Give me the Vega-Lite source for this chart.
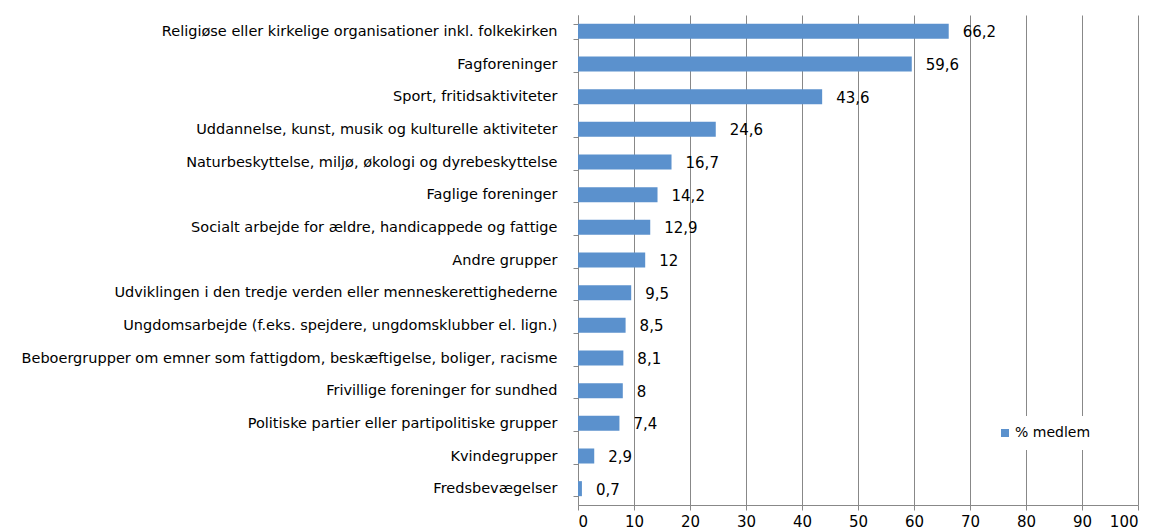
{
  "$schema": "https://vega.github.io/schema/vega-lite/v6.json",
  "autosize": "none",
  "width": 560,
  "height": 490,
  "padding": {"left": 578, "top": 15, "right": 19, "bottom": 25},
  "background": "white",
  "config": {
    "font": "DejaVu Sans",
    "view": {"stroke": null}
  },
  "data": {
    "values": [
      {"kategori": "Religiøse eller kirkelige organisationer inkl. folkekirken", "pct": 66.2, "label": "66,2", "serie": "% medlem"},
      {"kategori": "Fagforeninger\u2002", "pct": 59.6, "label": "59,6", "serie": "% medlem"},
      {"kategori": "Sport, fritidsaktiviteter", "pct": 43.6, "label": "43,6", "serie": "% medlem"},
      {"kategori": "Uddannelse, kunst, musik og kulturelle aktiviteter\u2002", "pct": 24.6, "label": "24,6", "serie": "% medlem"},
      {"kategori": "Naturbeskyttelse, miljø, økologi og dyrebeskyttelse\u2002", "pct": 16.7, "label": "16,7", "serie": "% medlem"},
      {"kategori": "Faglige foreninger", "pct": 14.2, "label": "14,2", "serie": "% medlem"},
      {"kategori": "Socialt arbejde for ældre, handicappede og fattige\u2002", "pct": 12.9, "label": "12,9", "serie": "% medlem"},
      {"kategori": "Andre grupper", "pct": 12, "label": "12", "serie": "% medlem"},
      {"kategori": "Udviklingen i den tredje verden eller menneskerettighederne", "pct": 9.5, "label": "9,5", "serie": "% medlem"},
      {"kategori": "Ungdomsarbejde (f.eks. spejdere, ungdomsklubber el. lign.)", "pct": 8.5, "label": "8,5", "serie": "% medlem"},
      {"kategori": "Beboergrupper om emner som fattigdom, beskæftigelse, boliger, racisme\u2002", "pct": 8.1, "label": "8,1", "serie": "% medlem"},
      {"kategori": "Frivillige foreninger for sundhed", "pct": 8, "label": "8", "serie": "% medlem"},
      {"kategori": "Politiske partier eller partipolitiske grupper", "pct": 7.4, "label": "7,4", "serie": "% medlem"},
      {"kategori": "Kvindegrupper\u2002", "pct": 2.9, "label": "2,9", "serie": "% medlem"},
      {"kategori": "Fredsbevægelser", "pct": 0.7, "label": "0,7", "serie": "% medlem"}
    ]
  },
  "encoding": {
    "y": {
      "field": "kategori",
      "type": "nominal",
      "sort": null,
      "scale": {"paddingInner": 0.54, "paddingOuter": 0.27},
      "axis": {
        "title": null,
        "domainColor": "#888888",
        "tickColor": "#888888",
        "tickBand": "extent",
        "tickSize": 5,
        "labelPadding": 16,
        "labelFontSize": 14.5,
        "labelColor": "#000000",
        "labelLimit": 600,
        "grid": false
      }
    }
  },
  "layer": [
    {
      "mark": {"type": "bar", "color": "#5b91cd"},
      "encoding": {
        "x": {
          "field": "pct",
          "type": "quantitative",
          "scale": {"domain": [0, 100], "nice": false},
          "axis": {
            "title": null,
            "values": [0, 10, 20, 30, 40, 50, 60, 70, 80, 90, 100],
            "grid": true,
            "gridColor": "#888888",
            "gridWidth": 1,
            "domainColor": "#888888",
            "tickColor": "#888888",
            "tickSize": 5,
            "labelFontSize": 15,
            "labelColor": "#000000",
            "labelPadding": 4
          }
        },
        "color": {
          "field": "serie",
          "type": "nominal",
          "scale": {"range": ["#5b91cd"]},
          "legend": {
            "title": null,
            "orient": "none",
            "legendX": 410,
            "legendY": 401,
            "fillColor": "white",
            "padding": 10,
            "symbolType": "square",
            "symbolSize": 64,
            "symbolStrokeWidth": 0,
            "labelFontSize": 14,
            "labelColor": "#000000",
            "labelOffset": 3
          }
        }
      }
    },
    {
      "mark": {"type": "text", "align": "left", "baseline": "middle", "dx": 14, "dy": 1, "fontSize": 15, "color": "#000000"},
      "encoding": {
        "x": {"field": "pct", "type": "quantitative"},
        "text": {"field": "label"}
      }
    }
  ]
}
